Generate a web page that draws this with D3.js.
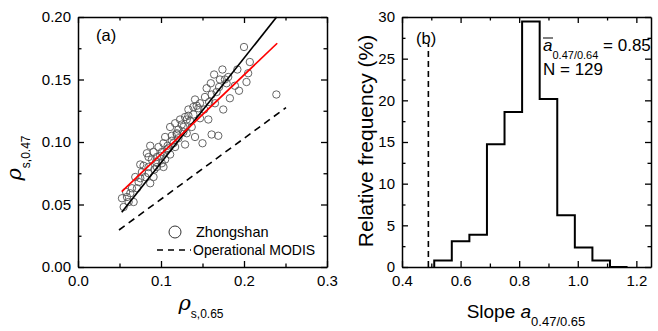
<!DOCTYPE html>
<html>
<head>
<meta charset="utf-8">
<script src="https://cdn.jsdelivr.net/npm/d3@7"></script>
<style>
  body { margin: 0; background: #fff; }
  svg text { font-family: "Liberation Sans", Arial, sans-serif; fill: #000; }
</style>
</head>
<body>
<svg id="chart" width="658" height="331"></svg>
<script>
// scatter points, panel (a): rho_s,0.65 vs rho_s,0.47 at Zhongshan
var zsX = [0.200, 0.207, 0.174, 0.164, 0.179, 0.205, 0.192, 0.203, 0.194, 0.183,
           0.160, 0.170, 0.161, 0.158, 0.165, 0.175, 0.152, 0.143, 0.141, 0.133,
           0.139, 0.131, 0.147, 0.157, 0.161, 0.169, 0.150, 0.141, 0.129, 0.127,
           0.123, 0.117, 0.121, 0.111, 0.113, 0.105, 0.103, 0.097, 0.091, 0.087,
           0.083, 0.085, 0.095, 0.101, 0.109, 0.115, 0.105, 0.111, 0.095, 0.103,
           0.085, 0.075, 0.077, 0.085, 0.091, 0.081, 0.075, 0.087, 0.071, 0.053,
           0.059, 0.063, 0.055, 0.067, 0.239, 0.137, 0.131, 0.119, 0.147, 0.094,
           0.099, 0.107, 0.113, 0.119, 0.125, 0.129, 0.135, 0.121, 0.117, 0.089,
           0.079, 0.073, 0.065, 0.061, 0.058, 0.069, 0.092, 0.101, 0.108, 0.133,
           0.139, 0.145, 0.153, 0.167, 0.181, 0.189, 0.171, 0.155, 0.127, 0.177];
var zsY = [0.176, 0.164, 0.158, 0.154, 0.147, 0.155, 0.158, 0.148, 0.141, 0.135,
           0.147, 0.144, 0.138, 0.132, 0.131, 0.126, 0.126, 0.129, 0.134, 0.126,
           0.122, 0.118, 0.119, 0.118, 0.106, 0.105, 0.099, 0.104, 0.098, 0.112,
           0.118, 0.115, 0.110, 0.112, 0.105, 0.104, 0.099, 0.096, 0.092, 0.097,
           0.091, 0.088, 0.088, 0.092, 0.095, 0.099, 0.086, 0.090, 0.080, 0.080,
           0.080, 0.082, 0.076, 0.075, 0.072, 0.072, 0.071, 0.067, 0.063, 0.055,
           0.056, 0.059, 0.048, 0.052, 0.138, 0.112, 0.107, 0.106, 0.131, 0.084,
           0.089, 0.094, 0.101, 0.107, 0.114, 0.120, 0.117, 0.103, 0.096, 0.086,
           0.081, 0.068, 0.063, 0.052, 0.060, 0.072, 0.078, 0.083, 0.097, 0.121,
           0.128, 0.127, 0.136, 0.140, 0.152, 0.145, 0.150, 0.143, 0.108, 0.150];

// fitted / reference lines (end points)
var blackLineX = [0.0527, 0.2393], blackLineY = [0.0438, 0.200];
var redLineX = [0.0527, 0.2400], redLineY = [0.0603, 0.1790];
var modisLineX = [0.0494, 0.2506], modisLineY = [0.0296, 0.1275];

// histogram, panel (b)
var binEdges = [0.51, 0.57, 0.63, 0.69, 0.75, 0.81, 0.87, 0.93, 0.99, 1.05, 1.11, 1.17];
var binFreq = [0.78, 3.10, 3.88, 14.73, 18.60, 29.46, 20.16, 6.20, 2.33, 0.78, 0];
var modisSlope = 0.49;

// tick values
var aXMajor = [0, 0.1, 0.2, 0.3], aXMinor = [0.05, 0.15, 0.25];
var aYMajor = [0, 0.05, 0.10, 0.15, 0.20], aYMinor = [0.025, 0.075, 0.125, 0.175];
var bXMajor = [0.4, 0.6, 0.8, 1.0, 1.2], bXMinor = [0.5, 0.7, 0.9, 1.1];
var bYMajor = [0, 5, 10, 15, 20, 25, 30], bYMinor = [2.5, 7.5, 12.5, 17.5, 22.5, 27.5];

var svg = d3.select('#chart');

var xA = d3.scaleLinear().domain([0, 0.3]).range([78, 327]);
var yA = d3.scaleLinear().domain([0, 0.2]).range([267, 17]);
var xB = d3.scaleLinear().domain([0.4, 1.25]).range([402, 651]);
var yB = d3.scaleLinear().domain([0, 30]).range([267, 17]);

// draws a boxed frame with inward ticks on all four sides
function drawFrame(x, y, xMaj, xMin, yMaj, yMin, xFmt, yFmt) {
  var x0 = x.range()[0], x1 = x.range()[1], y0 = y.range()[0], y1 = y.range()[1];
  var sides = [
    [d3.axisBottom, x, 'translate(0,' + y0 + ')', xMaj, xMin, xFmt, 8],
    [d3.axisTop, x, 'translate(0,' + y1 + ')', xMaj, xMin, null, 7],
    [d3.axisLeft, y, 'translate(' + x0 + ',0)', yMaj, yMin, yFmt, 7],
    [d3.axisRight, y, 'translate(' + x1 + ',0)', yMaj, yMin, null, 7]
  ];
  sides.forEach(function (s) {
    var g = svg.append('g').attr('transform', s[2]);
    g.call(s[0](s[1]).tickValues(s[3]).tickSizeInner(-6).tickSizeOuter(0).tickPadding(s[6])
      .tickFormat(s[5] ? s[5] : ''));
    g.selectAll('text').attr('font-size', 15).attr('font-family', null);
    g.select('.domain').attr('stroke-width', 1.5);
    g.selectAll('.tick line').attr('stroke-width', 1.3);
    // minor ticks
    var m = svg.append('g').attr('transform', s[2]);
    m.call(s[0](s[1]).tickValues(s[4]).tickSizeInner(-3.5).tickSizeOuter(0).tickFormat(''));
    m.select('.domain').remove();
    m.selectAll('.tick line').attr('stroke-width', 1.3);
  });
}

drawFrame(xA, yA, aXMajor, aXMinor, aYMajor, aYMinor, d3.format('.1f'), d3.format('.2f'));
drawFrame(xB, yB, bXMajor, bXMinor, bYMajor, bYMinor, d3.format('.1f'), d3.format('d'));

// ---- panel (a)
svg.append('g').selectAll('circle')
  .data(zsX.map(function (d, i) { return [d, zsY[i]]; }))
  .enter().append('circle')
  .attr('cx', function (d) { return xA(d[0]); })
  .attr('cy', function (d) { return yA(d[1]); })
  .attr('r', 3.7)
  .attr('fill', 'none')
  .attr('stroke', '#555')
  .attr('stroke-width', 0.9);

function seg(xs, ys, sx, sy) {
  return d3.line().x(function (d) { return sx(d[0]); }).y(function (d) { return sy(d[1]); })
    (xs.map(function (d, i) { return [d, ys[i]]; }));
}

svg.append('path').attr('d', seg(modisLineX, modisLineY, xA, yA))
  .attr('stroke', '#000').attr('stroke-width', 1.6).attr('stroke-dasharray', '7,5').attr('fill', 'none');
svg.append('path').attr('d', seg(blackLineX, blackLineY, xA, yA))
  .attr('stroke', '#000').attr('stroke-width', 1.7).attr('fill', 'none');
svg.append('path').attr('d', seg(redLineX, redLineY, xA, yA))
  .attr('stroke', '#ff0000').attr('stroke-width', 1.7).attr('fill', 'none');

svg.append('text').attr('x', 96).attr('y', 41).attr('font-size', 16.5).text('(a)');

// legend
svg.append('circle').attr('cx', 175).attr('cy', 232).attr('r', 6)
  .attr('fill', 'none').attr('stroke', '#333').attr('stroke-width', 1);
svg.append('text').attr('x', 196).attr('y', 237).attr('font-size', 14.5).text('Zhongshan');
svg.append('line').attr('x1', 157).attr('x2', 191).attr('y1', 250).attr('y2', 250)
  .attr('stroke', '#000').attr('stroke-width', 1.6).attr('stroke-dasharray', '6,5');
svg.append('text').attr('x', 193).attr('y', 255).attr('font-size', 14).text('Operational MODIS');

// axis titles (a)
var tA = svg.append('text').attr('x', 201).attr('y', 310).attr('text-anchor', 'middle');
tA.append('tspan').attr('font-size', 21).attr('font-style', 'italic')
  .attr('font-family', '"DejaVu Serif", serif').text('ρ');
tA.append('tspan').attr('font-size', 12).attr('dy', 8).text('s,0.65');

var tAy = svg.append('text').attr('transform', 'translate(21,158) rotate(-90)').attr('text-anchor', 'middle');
tAy.append('tspan').attr('font-size', 21).attr('font-style', 'italic')
  .attr('font-family', '"DejaVu Serif", serif').text('ρ');
tAy.append('tspan').attr('font-size', 12).attr('dy', 9).text('s,0.47');

// ---- panel (b)
var stepPts = [[binEdges[0], 0]];
binFreq.forEach(function (f, i) {
  stepPts.push([binEdges[i], f]);
  stepPts.push([binEdges[i + 1], f]);
});
stepPts.push([binEdges[binEdges.length - 1], 0]);
svg.append('path')
  .attr('d', d3.line().x(function (d) { return xB(d[0]); }).y(function (d) { return yB(d[1]); })(stepPts))
  .attr('fill', 'none').attr('stroke', '#000').attr('stroke-width', 2);

svg.append('line')
  .attr('x1', xB(modisSlope)).attr('x2', xB(modisSlope))
  .attr('y1', yB(0)).attr('y2', yB(26.8))
  .attr('stroke', '#000').attr('stroke-width', 1.6).attr('stroke-dasharray', '6,4');

svg.append('text').attr('x', 416).attr('y', 44).attr('font-size', 16.5).text('(b)');

var ann = svg.append('text').attr('x', 543).attr('y', 51).attr('font-size', 17);
ann.append('tspan').attr('font-style', 'italic').text('a');
ann.append('tspan').attr('font-size', 11).attr('dy', 8).text('0.47/0.64');
ann.append('tspan').attr('dy', -8).text(' = 0.85');
svg.append('line').attr('x1', 543).attr('x2', 553).attr('y1', 38).attr('y2', 38)
  .attr('stroke', '#000').attr('stroke-width', 1);
svg.append('text').attr('x', 543).attr('y', 75).attr('font-size', 17).text('N = 129');

var tB = svg.append('text').attr('x', 526).attr('y', 318).attr('text-anchor', 'middle').attr('font-size', 19);
tB.append('tspan').text('Slope ');
tB.append('tspan').attr('font-style', 'italic').text('a');
tB.append('tspan').attr('font-size', 13).attr('dy', 8).text('0.47/0.65');

svg.append('text').attr('transform', 'translate(373,141) rotate(-90)')
  .attr('text-anchor', 'middle').attr('font-size', 21).text('Relative frequency (%)');
</script>
</body>
</html>
